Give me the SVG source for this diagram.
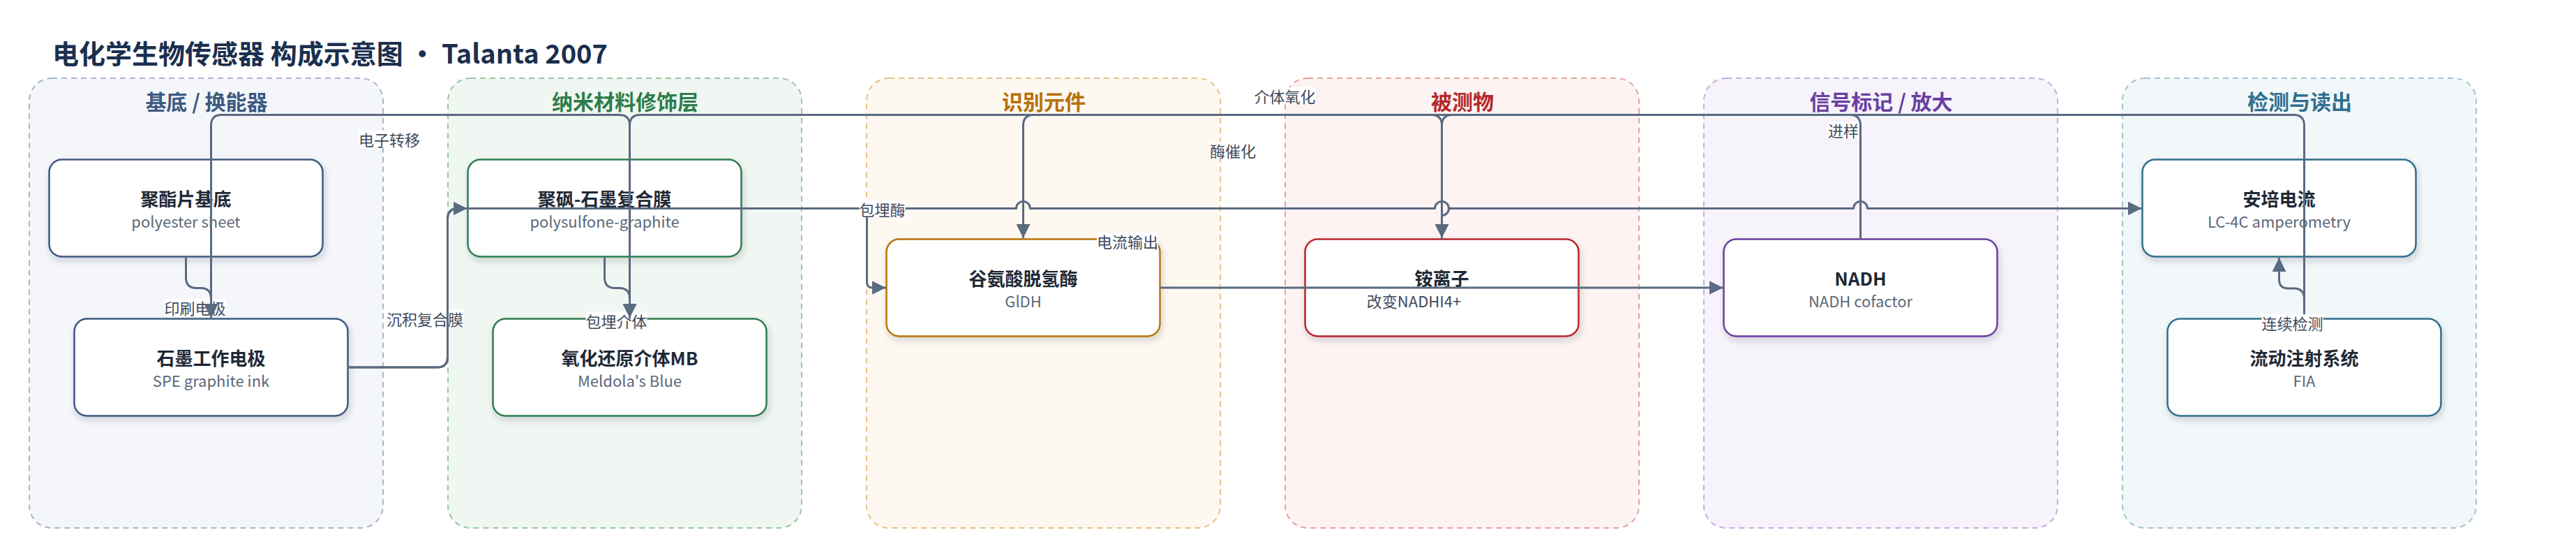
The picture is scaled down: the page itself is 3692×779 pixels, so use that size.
<svg xmlns="http://www.w3.org/2000/svg" width="3692" height="779" viewBox="0 0 3692 779">
<defs>
<style>
.title{font-family:"Noto Sans CJK SC","Noto Sans",sans-serif;font-weight:700;font-size:38px;fill:#1b2f4e}
.gt{font-family:"Noto Sans CJK SC","Noto Sans",sans-serif;font-weight:700;font-size:30px;text-anchor:middle}
.grp{stroke-width:2;stroke-dasharray:8 6}
.node rect{fill:#ffffff;stroke-width:2.5;filter:url(#shadow)}
.nt{font-family:"Noto Sans CJK SC","Noto Sans",sans-serif;font-weight:700;font-size:26px;fill:#1e2835;text-anchor:middle}
.ns{font-family:"Noto Sans CJK SC","Noto Sans",sans-serif;font-size:22px;fill:#5d6878;text-anchor:middle}
.e{fill:none;stroke:#5a6a80;stroke-width:3;stroke-linejoin:round}
.ea{marker-end:url(#arr)}
.lb{fill:#ffffff}
.lt{font-family:"Noto Sans CJK SC","Noto Sans",sans-serif;font-size:22px;fill:#3f4a5c;text-anchor:middle}
</style>
<marker id="arr" viewBox="0 0 20 20" refX="20" refY="10" markerWidth="20" markerHeight="20" markerUnits="userSpaceOnUse" orient="auto">
<path d="M0,0 L20,10 L0,20 z" fill="#5a6a80"/>
</marker>
<filter id="shadow" x="-10%" y="-10%" width="125%" height="135%">
<feDropShadow dx="2" dy="5" stdDeviation="5" flood-color="#1f2a37" flood-opacity="0.18"/>
</filter>
</defs>
<rect width="3692" height="779" fill="#ffffff"/>
<text class="title" x="75" y="91">电化学生物传感器 构成示意图 · Talanta 2007</text>

<g id="group-substrate">
<rect class="grp" x="42" y="112" width="507" height="644" rx="32" fill="#f4f6fa" stroke="#a8b5ca"/>
<text class="gt" x="296" y="157" fill="#3d5a80">基底 / 换能器</text>
</g>
<g id="group-nano">
<rect class="grp" x="642" y="112" width="507" height="644" rx="32" fill="#f0f7f2" stroke="#98c6a5"/>
<text class="gt" x="896" y="157" fill="#2e7d4a">纳米材料修饰层</text>
</g>
<g id="group-recognition">
<rect class="grp" x="1242" y="112" width="507" height="644" rx="32" fill="#fdf8f0" stroke="#e6c08a"/>
<text class="gt" x="1496" y="157" fill="#b8700a">识别元件</text>
</g>
<g id="group-analyte">
<rect class="grp" x="1842" y="112" width="507" height="644" rx="32" fill="#fdf3f3" stroke="#e6a0a0"/>
<text class="gt" x="2096" y="157" fill="#b52828">被测物</text>
</g>
<g id="group-signal">
<rect class="grp" x="2442" y="112" width="507" height="644" rx="32" fill="#f6f3fb" stroke="#c5addf"/>
<text class="gt" x="2696" y="157" fill="#6b3fa0">信号标记 / 放大</text>
</g>
<g id="group-readout">
<rect class="grp" x="3042" y="112" width="507" height="644" rx="32" fill="#f2f7f9" stroke="#a2c3cd"/>
<text class="gt" x="3296" y="157" fill="#2f6f8f">检测与读出</text>
</g>

<g id="node-polyester" class="node">
<rect x="70.5" y="228.5" width="392" height="139" rx="18" stroke="#3d5a80"/>
<text class="nt" x="266.5" y="295">聚酯片基底</text>
<text class="ns" x="266.5" y="326">polyester sheet</text>
</g>
<g id="node-spe" class="node">
<rect x="106.5" y="456.5" width="392" height="139" rx="18" stroke="#3d5a80"/>
<text class="nt" x="302.5" y="523">石墨工作电极</text>
<text class="ns" x="302.5" y="554">SPE graphite ink</text>
</g>
<g id="node-psf" class="node">
<rect x="670.5" y="228.5" width="392" height="139" rx="18" stroke="#2e7d4f"/>
<text class="nt" x="866.5" y="295">聚砜-石墨复合膜</text>
<text class="ns" x="866.5" y="326">polysulfone-graphite</text>
</g>
<g id="node-mb" class="node">
<rect x="706.5" y="456.5" width="392" height="139" rx="18" stroke="#2e7d4f"/>
<text class="nt" x="902.5" y="523">氧化还原介体MB</text>
<text class="ns" x="902.5" y="554">Meldola's Blue</text>
</g>
<g id="node-gldh" class="node">
<rect x="1270.5" y="342.5" width="392" height="139" rx="18" stroke="#b8750a"/>
<text class="nt" x="1466.5" y="409">谷氨酸脱氢酶</text>
<text class="ns" x="1466.5" y="440">GlDH</text>
</g>
<g id="node-nh4" class="node">
<rect x="1870.5" y="342.5" width="392" height="139" rx="18" stroke="#b8282a"/>
<text class="nt" x="2066.5" y="409">铵离子</text>
</g>
<g id="node-nadh" class="node">
<rect x="2470.5" y="342.5" width="392" height="139" rx="18" stroke="#6b3fa0"/>
<text class="nt" x="2666.5" y="409">NADH</text>
<text class="ns" x="2666.5" y="440">NADH cofactor</text>
</g>
<g id="node-amp" class="node">
<rect x="3070.5" y="228.5" width="392" height="139" rx="18" stroke="#2f6f8a"/>
<text class="nt" x="3266.5" y="295">安培电流</text>
<text class="ns" x="3266.5" y="326">LC-4C amperometry</text>
</g>
<g id="node-fia" class="node">
<rect x="3106.5" y="456.5" width="392" height="139" rx="18" stroke="#2f6f8a"/>
<text class="nt" x="3302.5" y="523">流动注射系统</text>
<text class="ns" x="3302.5" y="554">FIA</text>
</g>

<g id="connectors">
<g id="labels-under">
<rect class="lb" x="235.5" y="428" width="88" height="24.5"/>
<text class="lt" x="279.5" y="450">印刷电极</text>
<rect class="lb" x="554" y="443" width="110" height="24.5"/>
<text class="lt" x="609" y="465.5">沉积复合膜</text>
<rect class="lb" x="839.5" y="446.5" width="88" height="24.5"/>
<text class="lt" x="883.5" y="468.5">包埋介体</text>
</g>
<path id="e-print" class="e ea" d="M266.5,367.5 V397.5 Q266.5,412.5 281.5,412.5 H287.5 Q302.5,412.5 302.5,427.5 V455"/>
<path id="e-deposit" class="e ea" d="M498.5,526 H626.5 Q641.5,526 641.5,511 V313.5 Q641.5,298.5 656.5,298.5 H669.5"/>
<path id="e-current" class="e ea" d="M498.5,526 H626.5 Q641.5,526 641.5,511 V313.5 Q641.5,298.5 656.5,298.5 H1456.5 A10,10 0 0 1 1476.5,298.5 H2056.5 A10,10 0 0 1 2076.5,298.5 H2656.5 A10,10 0 0 1 2676.5,298.5 H3069.5"/>
<path class="e" d="M2076.5,298.5 A10,10 0 0 1 2066.5,308.5"/>
<path id="e-mediator" class="e ea" d="M866.5,367.5 V397.5 Q866.5,412.5 881.5,412.5 H887.5 Q902.5,412.5 902.5,427.5 V455"/>
<path id="e-enzyme" class="e ea" d="M1062.5,298.5 H1227.5 Q1242.5,298.5 1242.5,313.5 V404 Q1242.5,412 1250.5,412 H1269.5"/>
<path id="e-electron" class="e ea" d="M902.5,456.5 V179.5 Q902.5,164.5 887.5,164.5 H317.5 Q302.5,164.5 302.5,179.5 V455"/>
<path id="e-nadh" class="e ea" d="M1662.5,412 H2469.5"/>
<path id="e-catalysis" class="e ea" d="M2066.5,342.5 V179.5 Q2066.5,164.5 2051.5,164.5 H1481.5 Q1466.5,164.5 1466.5,179.5 V341"/>
<path id="e-oxid" class="e ea" d="M2666.5,342.5 V179.5 Q2666.5,164.5 2651.5,164.5 H917.5 Q902.5,164.5 902.5,179.5 V455"/>
<path id="e-inject" class="e ea" d="M3302.5,456.5 V179.5 Q3302.5,164.5 3287.5,164.5 H2081.5 Q2066.5,164.5 2066.5,179.5 V341"/>
<path id="e-detect" class="e ea" d="M3302.5,456.5 V428 Q3302.5,413 3287.5,413 H3279.5 Q3266.5,413 3266.5,400 V369"/>
<g id="labels-over">
<rect class="lb" x="514" y="186.5" width="88" height="24.5"/>
<text class="lt" x="558" y="208.5">电子转移</text>
<rect class="lb" x="1231.5" y="286.5" width="66" height="24.5"/>
<text class="lt" x="1264.5" y="308.5">包埋酶</text>
<rect class="lb" x="1572" y="332.5" width="88" height="24.5"/>
<text class="lt" x="1616" y="354.5">电流输出</text>
<rect class="lb" x="1734" y="203" width="66" height="24.5"/>
<text class="lt" x="1767" y="225">酶催化</text>
<rect class="lb" x="1797.5" y="125" width="88" height="24.5"/>
<text class="lt" x="1841.5" y="147">介体氧化</text>
<text class="lt" x="2026.5" y="440">改变NADHI4+</text>
<rect class="lb" x="2620" y="174" width="44" height="24.5"/>
<text class="lt" x="2642" y="196">进样</text>
<rect class="lb" x="3241.5" y="450" width="88" height="24.5"/>
<text class="lt" x="3285.5" y="472">连续检测</text>
</g>
</g>
</svg>
